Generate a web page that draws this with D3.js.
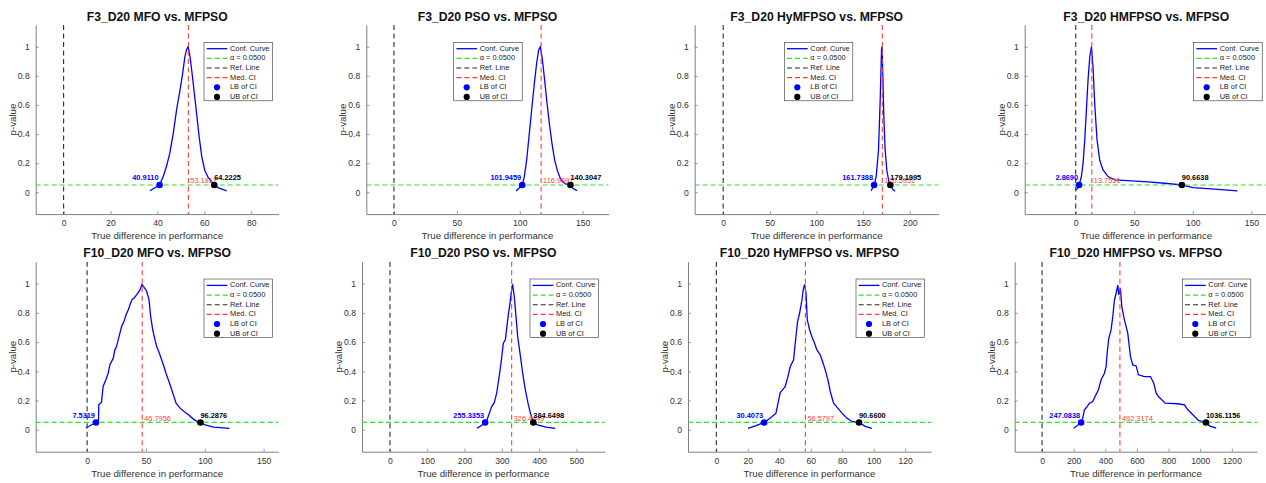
<!DOCTYPE html>
<html>
<head>
<meta charset="utf-8">
<script src="https://cdn.jsdelivr.net/npm/d3@7"></script>
<style>
  html, body { margin: 0; padding: 0; background: #fff; }
  svg { display: block; font-family: "Liberation Sans", Arial, Helvetica, sans-serif; }
</style>
</head>
<body>
<svg id="chart" width="1266" height="483"></svg>
<script>
// ---------------- DATA ----------------
const panelTitles = [
  "F3_D20 MFO vs. MFPSO", "F3_D20 PSO vs. MFPSO", "F3_D20 HyMFPSO vs. MFPSO", "F3_D20 HMFPSO vs. MFPSO",
  "F10_D20 MFO vs. MFPSO", "F10_D20 PSO vs. MFPSO", "F10_D20 HyMFPSO vs. MFPSO", "F10_D20 HMFPSO vs. MFPSO"
];
const alphaLevel = 0.05;
const refValue = 0;
const lbValues  = [40.9110, 101.9459, 161.7388, 2.8690, 7.5319, 255.3353, 30.4073, 247.0838];
const ubValues  = [64.2225, 140.3047, 179.1995, 90.6638, 96.2876, 384.6498, 90.6600, 1036.1156];
const medValues = [53.1817, 116.9591, 170.5951, 13.7551, 46.7956, 326.4449, 56.5797, 492.3174];
const lbLabels  = ["40.9110", "101.9459", "161.7388", "2.8690", "7.5319", "255.3353", "30.4073", "247.0838"];
const ubLabels  = ["64.2225", "140.3047", "179.1995", "90.6638", "96.2876", "384.6498", "90.6600", "1036.1156"];
const medLabels = ["53.1817", "116.9591", "170.5951", "13.7551", "46.7956", "326.4449", "56.5797", "492.3174"];

const xDomains = [[-11.9, 91.7], [-22, 170.7], [-30.5, 231], [-43.6, 164], [-43.7, 162.8], [-75, 576], [-18, 136.4], [-173, 1359]];
const yDomain = [-0.15, 1.15];
const xTicks = [
  [0, 20, 40, 60, 80], [0, 50, 100, 150], [0, 50, 100, 150, 200], [0, 50, 100, 150],
  [0, 50, 100, 150], [0, 100, 200, 300, 400, 500], [0, 20, 40, 60, 80, 100, 120], [0, 200, 400, 600, 800, 1000, 1200]
];
const yTicks = [0, 0.2, 0.4, 0.6, 0.8, 1];
const xAxisLabel = "True difference in performance";
const yAxisLabel = "p-value";
const legendLabels = ["Conf. Curve", "\u03b1 = 0.0500", "Ref. Line", "Med. CI", "LB of CI", "UB of CI"];

// confidence curves: true difference (x) and p-value (p)
const f3MfoX = [36.8, 40.9, 42.5, 43.9, 45.3, 46.7, 48.2, 49.6, 50.7, 51.7, 52.4, 53.1, 53.9, 54.6, 55.6, 56.7, 57.8, 58.9, 60.2, 61.7, 64.2, 66.1, 69.5];
const f3MfoP = [0.01, 0.05, 0.11, 0.18, 0.27, 0.40, 0.57, 0.70, 0.81, 0.93, 0.98, 1.0, 0.93, 0.84, 0.70, 0.54, 0.38, 0.245, 0.15, 0.10, 0.05, 0.03, 0.01];
const f3PsoX = [97.0, 100.2, 102.0, 103.6, 105.5, 107.6, 109.7, 111.6, 113.4, 115.0, 116.4, 117.7, 119.5, 121.4, 123.5, 125.6, 127.7, 130.1, 132.8, 136.2, 140.2, 142.1, 145.5];
const f3PsoP = [0.009, 0.034, 0.05, 0.108, 0.222, 0.405, 0.588, 0.748, 0.885, 0.977, 1.0, 0.931, 0.794, 0.634, 0.474, 0.336, 0.222, 0.142, 0.085, 0.057, 0.05, 0.027, 0.011];
const f3HyX = [158.6, 161.8, 164.0, 166.5, 168.3, 169.7, 170.3, 170.9, 172.2, 173.6, 175.4, 177.9, 179.2, 181.8, 184.3];
const f3HyP = [0.011, 0.05, 0.108, 0.291, 0.634, 0.977, 1.0, 0.86, 0.519, 0.291, 0.153, 0.062, 0.05, 0.02, 0.007];
const f3HmX = [0.6, 2.9, 4.8, 6.3, 7.7, 9.1, 10.5, 12.0, 13.4, 14.8, 16.2, 18.2, 20.5, 23.3, 27.6, 33.3, 47.5, 61.8, 76.0, 90.7, 100.2, 118.7, 138.1];
const f3HmP = [0.016, 0.05, 0.108, 0.20, 0.36, 0.565, 0.77, 0.93, 1.0, 0.86, 0.61, 0.36, 0.22, 0.153, 0.108, 0.085, 0.078, 0.071, 0.062, 0.05, 0.032, 0.021, 0.009];
const f10MfoX = [-1.1, 6.5, 8.0, 9.7, 9.9, 12.2, 13.6, 15.9, 17.9, 19.3, 22.2, 23.6, 25.0, 26.4, 27.8, 29.3, 31.3, 33.0, 34.9, 36.9, 38.4, 39.8, 42.0, 44.9, 46.6, 47.7, 50.6, 52.6, 54.0, 55.7, 57.7, 59.1, 61.4, 63.4, 65.3, 67.0, 69.0, 71.0, 73.3, 75.6, 79.0, 82.4, 86.1, 90.3, 95.2, 100.3, 107.4, 121.0];
const f10MfoP = [0.012, 0.046, 0.05, 0.068, 0.171, 0.189, 0.296, 0.342, 0.387, 0.444, 0.49, 0.547, 0.569, 0.615, 0.66, 0.706, 0.74, 0.786, 0.82, 0.866, 0.893, 0.9, 0.923, 0.957, 0.993, 0.982, 0.948, 0.89, 0.776, 0.686, 0.615, 0.57, 0.524, 0.478, 0.433, 0.387, 0.342, 0.296, 0.239, 0.182, 0.148, 0.125, 0.103, 0.073, 0.05, 0.034, 0.018, 0.009];
const f10PsoX = [233.5, 248.7, 255.3, 260.3, 266.5, 272.8, 280.0, 286.2, 291.6, 297.9, 304.1, 309.5, 315.7, 322.0, 327.4, 329.2, 333.6, 338.1, 342.6, 348.8, 356.0, 363.1, 370.3, 376.6, 382.8, 384.6, 396.2, 418.6, 443.6];
const f10PsoP = [0.011, 0.034, 0.05, 0.068, 0.114, 0.159, 0.187, 0.25, 0.342, 0.456, 0.592, 0.615, 0.752, 0.866, 0.98, 0.99, 0.91, 0.774, 0.638, 0.524, 0.387, 0.273, 0.182, 0.114, 0.068, 0.05, 0.034, 0.018, 0.009];
const f10HyX = [20.1, 24.8, 30.4, 34.3, 37.9, 39.2, 40.6, 42.1, 43.8, 45.5, 47.0, 49.1, 49.7, 50.6, 51.6, 52.9, 54.4, 55.2, 56.1, 57.0, 57.8, 59.3, 60.7, 62.4, 63.9, 66.0, 67.5, 69.2, 70.9, 72.4, 74.5, 77.2, 79.8, 82.9, 86.1, 89.3, 90.7, 94.6, 98.8];
const f10HyP = [0.009, 0.027, 0.05, 0.08, 0.114, 0.182, 0.255, 0.273, 0.296, 0.364, 0.433, 0.478, 0.547, 0.638, 0.74, 0.797, 0.888, 0.957, 0.995, 0.934, 0.752, 0.683, 0.638, 0.592, 0.547, 0.513, 0.467, 0.41, 0.342, 0.262, 0.182, 0.148, 0.114, 0.08, 0.057, 0.05, 0.05, 0.023, 0.009];
const f10HmX = [200.3, 229.9, 247.1, 257.3, 268.0, 284.7, 299.5, 320.6, 335.3, 356.4, 373.3, 394.4, 404.9, 411.3, 421.8, 436.5, 447.1, 457.6, 468.2, 478.7, 485.0, 495.6, 504.0, 520.9, 542.0, 558.9, 573.7, 594.7, 609.5, 647.4, 685.4, 706.5, 721.3, 736.0, 778.2, 858.4, 900.5, 921.6, 953.3, 989.1, 1036.1, 1058.6, 1100.8];
const f10HmP = [0.011, 0.034, 0.05, 0.08, 0.137, 0.159, 0.182, 0.193, 0.228, 0.273, 0.342, 0.387, 0.433, 0.524, 0.626, 0.683, 0.774, 0.888, 0.934, 0.99, 0.923, 0.968, 0.843, 0.752, 0.66, 0.501, 0.444, 0.437, 0.376, 0.364, 0.364, 0.319, 0.25, 0.228, 0.182, 0.178, 0.171, 0.137, 0.103, 0.064, 0.05, 0.027, 0.011];

const curveX = [f3MfoX, f3PsoX, f3HyX, f3HmX, f10MfoX, f10PsoX, f10HyX, f10HmX];
const curveP = [f3MfoP, f3PsoP, f3HyP, f3HmP, f10MfoP, f10PsoP, f10HyP, f10HmP];

// ---------------- LAYOUT ----------------
const boxes = [ // left, top, right, bottom
  [35.7, 24.9, 278.7, 214.1], [366.3, 24.9, 608.7, 214.1], [694.7, 24.9, 938.7, 214.1], [1024.7, 24.9, 1267.7, 214.1],
  [35.7, 261.7, 278.7, 451.7], [362, 261.7, 604.7, 451.7], [688, 261.7, 931, 451.7], [1014.7, 261.7, 1257, 451.7]
];
const legendPos = [[204, 42.3], [453.7, 42.3], [784.3, 42.3], [1193.7, 42.3], [204, 279], [530, 279], [856, 279], [1182.3, 279]];

const C = {
  blue: "#0000ff", green: "#2fe02f", ref: "#2a2a2a", red: "#ff3b3b", axis: "#808080", text: "#333333"
};

const svg = d3.select("#chart");
const defs = svg.append("defs");

panelTitles.forEach((title, i) => {
  const [L, T, R, B] = boxes[i];
  const x = d3.scaleLinear().domain(xDomains[i]).range([L, R]);
  const y = d3.scaleLinear().domain(yDomain).range([B, T]);
  const g = svg.append("g");

  defs.append("clipPath").attr("id", "clip" + i)
    .append("rect").attr("x", L).attr("y", T).attr("width", R - L).attr("height", B - T);

  // axes
  const xa = g.append("g").attr("transform", `translate(0,${B})`)
    .call(d3.axisBottom(x).tickValues(xTicks[i]).tickSize(-3).tickSizeOuter(0).tickPadding(6).tickFormat(d => String(d)));
  const ya = g.append("g").attr("transform", `translate(${L},0)`)
    .call(d3.axisLeft(y).tickValues(yTicks).tickSize(-3).tickSizeOuter(0).tickPadding(6).tickFormat(d => String(d)));
  [xa, ya].forEach(a => {
    a.select(".domain").attr("stroke", C.axis).attr("stroke-width", 1);
    a.selectAll(".tick line").attr("stroke", C.axis).attr("stroke-width", 0.8);
    a.selectAll(".tick text").attr("fill", C.text).attr("font-size", "8.6px")
      .attr("font-family", "'Liberation Sans', Arial, sans-serif");
  });

  // title & axis labels
  g.append("text").attr("x", (L + R) / 2).attr("y", T - 7.5).attr("text-anchor", "middle")
    .attr("dominant-baseline", "middle").attr("font-size", "12.2px").attr("font-weight", "bold")
    .attr("fill", "#111").text(title);
  g.append("text").attr("x", (L + R) / 2).attr("y", B + 22.3).attr("text-anchor", "middle")
    .attr("dominant-baseline", "middle").attr("font-size", "9.7px").attr("fill", C.text).text(xAxisLabel);
  g.append("text").attr("transform", `translate(${L - 22.5},${(T + B) / 2}) rotate(-90)`)
    .attr("text-anchor", "middle").attr("dominant-baseline", "middle")
    .attr("font-size", "9.7px").attr("fill", C.text).text(yAxisLabel);

  // plot content
  const pg = g.append("g").attr("clip-path", `url(#clip${i})`);
  const pts = curveX[i].map((v, k) => [v, curveP[i][k]]);
  pg.append("path").datum(pts)
    .attr("d", d3.line().x(d => x(d[0])).y(d => y(d[1])))
    .attr("fill", "none").attr("stroke", C.blue).attr("stroke-width", 1.3);
  pg.append("line").attr("x1", L).attr("x2", R).attr("y1", y(alphaLevel)).attr("y2", y(alphaLevel))
    .attr("stroke", C.green).attr("stroke-width", 1.2).attr("stroke-dasharray", "5,3");
  pg.append("line").attr("x1", x(refValue)).attr("x2", x(refValue)).attr("y1", T).attr("y2", B)
    .attr("stroke", C.ref).attr("stroke-width", 1.1).attr("stroke-dasharray", "5,3.5");
  pg.append("line").attr("x1", x(medValues[i])).attr("x2", x(medValues[i])).attr("y1", T).attr("y2", B)
    .attr("stroke", C.red).attr("stroke-width", 1.1).attr("stroke-dasharray", "5,3.5");

  // median label
  pg.append("text").attr("x", x(medValues[i]) + 2).attr("y", y(alphaLevel) - 1.6)
    .attr("font-size", "7.4px").attr("fill", C.red).text(medLabels[i]);

  // markers
  pg.append("circle").attr("cx", x(lbValues[i])).attr("cy", y(alphaLevel)).attr("r", 3.3).attr("fill", C.blue);
  pg.append("circle").attr("cx", x(ubValues[i])).attr("cy", y(alphaLevel)).attr("r", 3.3).attr("fill", "#000");

  pg.append("text").attr("x", x(lbValues[i]) - 1).attr("y", y(alphaLevel) - 4.6).attr("text-anchor", "end")
    .attr("font-size", "7.4px").attr("font-weight", "bold").attr("fill", C.blue).text(lbLabels[i]);
  pg.append("text").attr("x", x(ubValues[i])).attr("y", y(alphaLevel) - 4.6)
    .attr("font-size", "7.4px").attr("font-weight", "bold").attr("fill", "#000").text(ubLabels[i]);

  // legend
  const [lx, ly] = legendPos[i];
  const lg = g.append("g").attr("transform", `translate(${lx},${ly})`);
  lg.append("rect").attr("width", 68.5).attr("height", 58.5).attr("fill", "#fff")
    .attr("stroke", "#333").attr("stroke-width", 0.6);
  const styles = [
    { type: "line", color: C.blue, dash: null, w: 1.3 },
    { type: "line", color: C.green, dash: "5,3", w: 1.2 },
    { type: "line", color: C.ref, dash: "5,3", w: 1.1 },
    { type: "line", color: C.red, dash: "5,3", w: 1.1 },
    { type: "dot", color: C.blue },
    { type: "dot", color: "#000" }
  ];
  legendLabels.forEach((lab, k) => {
    const ry = 6.4 + k * 9.65;
    const s = styles[k];
    if (s.type === "line") {
      lg.append("line").attr("x1", 2.7).attr("x2", 23.4).attr("y1", ry).attr("y2", ry)
        .attr("stroke", s.color).attr("stroke-width", s.w).attr("stroke-dasharray", s.dash);
    } else {
      lg.append("circle").attr("cx", 13).attr("cy", ry).attr("r", 3.1).attr("fill", s.color);
    }
    lg.append("text").attr("x", 26).attr("y", ry).attr("dominant-baseline", "middle")
      .attr("font-size", "7.4px").attr("fill", "#222").text(lab);
  });
});
</script>
</body>
</html>
